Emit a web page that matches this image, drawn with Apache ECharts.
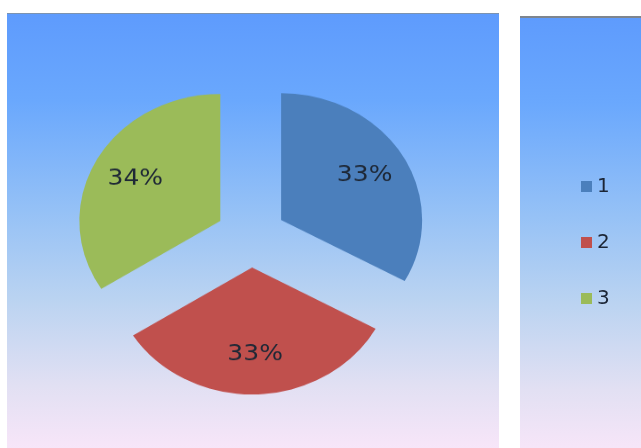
<!DOCTYPE html>
<html>
<head>
<meta charset="utf-8">
<script src="https://cdn.jsdelivr.net/npm/echarts@6/dist/echarts.min.js"></script>
<style>
  html, body { margin: 0; padding: 0; background: #ffffff; }
  #wrap { position: relative; width: 641px; height: 448px; overflow: hidden; }
  #base, #pie { position: absolute; left: 0; top: 0; width: 641px; height: 448px; }
  /* the pie is drawn as a slightly flattened disc */
  #pie { transform: scaleY(0.9); transform-origin: 0 236px; }
</style>
</head>
<body>
<div id="wrap">
  <div id="base"></div>
  <div id="pie"></div>
</div>
<script>
// Slice names and their shares
const categories = ['1', '2', '3'];
const values = [33, 33, 34];
const colors = ['#4B7FBC', '#C0504D', '#9BBB59'];

function panelFill() {
  return new echarts.graphic.LinearGradient(0, 0, 0, 1, [
    { offset: 0, color: '#5E9BFD' },
    { offset: 0.2, color: '#6AA8FD' },
    { offset: 0.45, color: '#95C1F6' },
    { offset: 0.65, color: '#BAD3F1' },
    { offset: 0.85, color: '#E2E0F3' },
    { offset: 1, color: '#F9E6F9' }
  ]);
}

// Background panels and the legend
const base = echarts.init(document.getElementById('base'), null, { renderer: 'canvas' });
base.setOption({
  backgroundColor: '#ffffff',
  animation: false,
  graphic: [
    { type: 'rect', shape: { x: 7, y: 13, width: 492, height: 440 }, style: { fill: panelFill() }, z: 0 },
    { type: 'line', shape: { x1: 7, y1: 13.5, x2: 499, y2: 13.5 }, style: { stroke: '#7C93B0', lineWidth: 1 }, z: 1 },
    { type: 'rect', shape: { x: 520, y: 16, width: 130, height: 440 }, style: { fill: panelFill() }, z: 0 },
    { type: 'line', shape: { x1: 520, y1: 17, x2: 641, y2: 17 }, style: { stroke: '#7E858E', lineWidth: 2 }, z: 1 }
  ],
  legend: {
    data: categories,
    orient: 'vertical',
    left: 581,
    top: 176,
    padding: 0,
    icon: 'rect',
    itemWidth: 11,
    itemHeight: 11,
    itemGap: 35,
    textStyle: { fontFamily: 'DejaVu Sans', fontSize: 20, color: '#1B2535', lineHeight: 21, padding: [0, 0, 0, 0] },
    selectedMode: false
  },
  series: [{
    type: 'pie',
    radius: 0,
    center: [-1000, -1000],
    silent: true,
    label: { show: false },
    data: categories.map((c, i) => ({ name: c, value: values[i], itemStyle: { color: colors[i] } }))
  }]
});

// The exploded pie and a label-only ring carrying the percentages
const pie = echarts.init(document.getElementById('pie'), null, { renderer: 'canvas' });
const slices = categories.map((c, i) => ({ name: c, value: values[i], selected: true, itemStyle: { color: colors[i] } }));
pie.setOption({
  animation: false,
  series: [
    {
      type: 'pie',
      center: [251, 236],
      radius: [0, 141],
      startAngle: 90,
      clockwise: true,
      selectedMode: 'multiple',
      selectedOffset: 35,
      silent: true,
      emphasis: { disabled: true },
      label: { show: false },
      labelLine: { show: false },
      data: slices
    },
    {
      type: 'pie',
      center: [251, 236],
      radius: [0, 188],
      startAngle: 90,
      clockwise: true,
      selectedMode: 'multiple',
      selectedOffset: 35,
      silent: true,
      emphasis: { disabled: true },
      itemStyle: { color: 'rgba(0,0,0,0)' },
      label: {
        show: true,
        position: 'inside',
        formatter: p => p.value + '%',
        fontFamily: 'DejaVu Sans',
        fontSize: 25,
        color: '#1E2836'
      },
      labelLine: { show: false },
      data: categories.map((c, i) => ({ name: c, value: values[i], selected: true, itemStyle: { color: 'rgba(0,0,0,0)' } }))
    }
  ]
});
</script>
</body>
</html>
